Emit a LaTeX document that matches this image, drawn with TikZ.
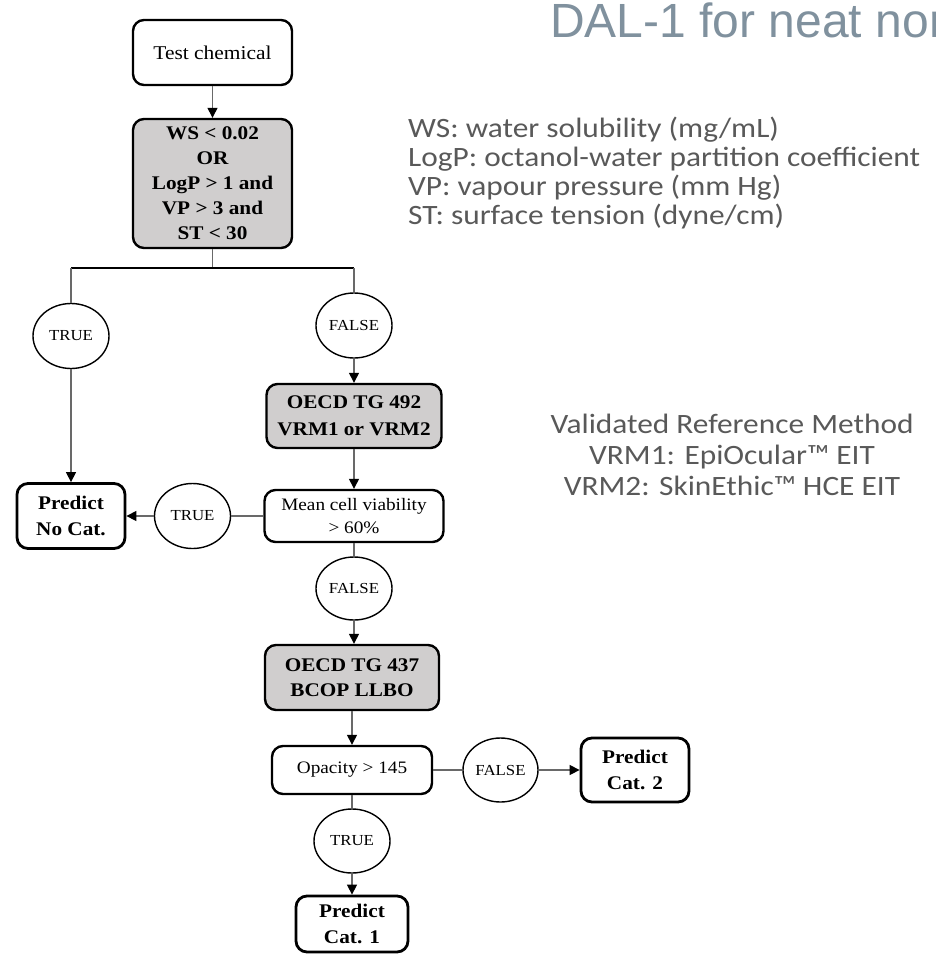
\documentclass[tikz,border=0pt]{standalone}
\usepackage{fontspec}
\setmainfont{Liberation Serif}[FakeStretch=1.1]
\newfontfamily\legendfont{Carlito}[FakeStretch=1.12]
\newfontfamily\titlefont{Liberation Sans}
\usetikzlibrary{arrows.meta,shapes.geometric}
\definecolor{boxgray}{RGB}{208,206,206}
\definecolor{legendgray}{RGB}{89,89,89}
\definecolor{titlegray}{RGB}{128,145,158}
\definecolor{linegray}{RGB}{105,105,105}
\begin{document}
\begin{tikzpicture}[x=1pt,y=-1pt,
  base/.style={draw=black, rounded corners=11pt, align=center, inner sep=0pt, line width=2.4pt},
  plainbox/.style={base, fill=white, font=\fontsize{17.5}{23}\selectfont},
  graybox/.style={base, fill=boxgray, font=\fontsize{19.3}{25}\selectfont\bfseries},
  predbox/.style={base, fill=white, line width=2.8pt, font=\fontsize{19.3}{26}\selectfont\bfseries},
  oval/.style={ellipse, draw=black, fill=white, line width=1.4pt, inner sep=0pt, minimum width=76pt, minimum height=65pt, font=\fontsize{15.3}{18}\selectfont},
  conn/.style={draw=linegray, line width=1.3pt},
  arr/.style={conn, -{Triangle[length=10pt,width=10pt,color=black,fill=black]}},
  legend/.style={anchor=base west, inner sep=0pt, text=legendgray, font=\fontsize{28}{30}\legendfont},
  vrm/.style={anchor=base, inner sep=0pt, text=legendgray, font=\fontsize{28}{30}\legendfont}
]
\useasboundingbox (0,0) rectangle (935,959);
\clip (0,0) rectangle (935,959);

% title (cut off at the right edge, as in the reference)
\node[anchor=base west, inner sep=0pt, text=titlegray, font=\fontsize{48}{50}\titlefont] (title) at (550,37) {DAL-1 for neat non};

% legend
\node[legend] (leg1) at (408,137) {WS: water solubility (mg/mL)};
\node[legend] (leg2) at (408,166) {LogP: octanol-water partition coefficient};
\node[legend] (leg3) at (408,195) {VP: vapour pressure (mm Hg)};
\node[legend] (leg4) at (408,224) {ST: surface tension (dyne/cm)};

\node[vrm] (vrm0) at (732,433) {Validated Reference Method};
\node[vrm] (vrm1) at (732,464) {VRM1: EpiOcular™ EIT};
\node[vrm] (vrm2) at (732,495) {VRM2: SkinEthic™ HCE EIT};

% nodes
\node[plainbox, minimum width=159pt, minimum height=65pt, font=\fontsize{19.5}{24}\selectfont] (tc) at (212.5,52.5) {Test chemical};
\node[graybox, minimum width=159pt, minimum height=129pt] (ws) at (212.5,183.5) {WS < 0.02\\OR\\LogP > 1 and\\VP > 3 and\\ST < 30};
\node[oval] (t1) at (71,336) {TRUE};
\node[oval] (f1) at (354,325.5) {FALSE};
\node[graybox, minimum width=175pt, minimum height=64pt, font=\fontsize{19.3}{27}\selectfont\bfseries] (o492) at (354,416) {OECD TG 492\\VRM1 or VRM2};
\node[plainbox, minimum width=179pt, minimum height=52pt] (mcv) at (354,516) {Mean cell viability\\> 60\%};
\node[oval] (t2) at (192.5,516) {TRUE};
\node[predbox, minimum width=108pt, minimum height=65pt] (pnc) at (71,516) {Predict\\No Cat.};
\node[oval, minimum height=63pt] (f2) at (354,588.5) {FALSE};
\node[graybox, minimum width=174pt, minimum height=65pt, font=\fontsize{19.3}{25}\selectfont\bfseries] (o437) at (352,677.5) {OECD TG 437\\BCOP LLBO};
\node[plainbox, minimum width=160pt, minimum height=48pt] (op) at (352,770) {Opacity > 145};
\node[oval, minimum width=75pt, minimum height=64pt] (f3) at (500.5,770) {FALSE};
\node[predbox, minimum width=108pt, minimum height=64pt] (pc2) at (635,770) {Predict\\Cat. 2};
\node[oval, minimum height=64pt] (t3) at (352,841) {TRUE};
\node[predbox, minimum width=112pt, minimum height=56pt] (pc1) at (352,924) {Predict\\Cat. 1};

% connectors
\coordinate (split) at (212.5,268);
\draw[arr] (tc) -- (ws);
\draw[conn] (ws.south) -- (split);
\draw[draw=black, line width=1.2pt] (split -| t1) -- (split -| f1);
\draw[conn] (split -| t1) -- (t1.north);
\draw[conn] (split -| f1) -- (f1.north);
\draw[arr] (t1) -- (pnc);
\draw[arr] (f1) -- (o492);
\draw[arr] (o492) -- (mcv);
\draw[conn] (mcv) -- (t2);
\draw[arr] (t2) -- (pnc);
\draw[conn] (mcv) -- (f2);
\draw[arr] (f2.south) -- (f2.south |- o437.north);
\draw[arr] (o437) -- (op);
\draw[conn] (op) -- (f3);
\draw[arr] (f3) -- (pc2);
\draw[conn] (op) -- (t3);
\draw[arr] (t3) -- (pc1);
\end{tikzpicture}
\end{document}
